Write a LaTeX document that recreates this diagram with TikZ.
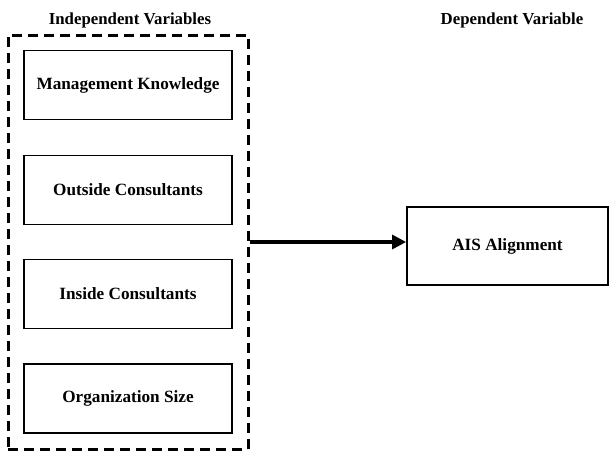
\documentclass[tikz,border=0pt]{standalone}
\usepackage{fontspec}
\setmainfont{Liberation Serif}
\usetikzlibrary{arrows.meta}

\begin{document}
\begin{tikzpicture}[x=1pt,y=1pt,yscale=-1,xscale=1,
  varbox/.style={draw,line width=1.8,minimum width=208,minimum height=69,inner sep=0,font=\fontsize{17.2}{20}\selectfont\bfseries},
  heading/.style={inner sep=0.75,font=\fontsize{16.8}{20}\selectfont\bfseries},
  groupbox/.style={draw,line width=3,dash pattern=on 10 off 6,minimum width=240,minimum height=414,inner sep=0}]
\useasboundingbox (0,0) rectangle (609,451);
% Dashed group
\node [groupbox] (group) at (128,242) {};
% Independent variables
\node [varbox] (knowledge) at (128,85) {Management Knowledge};
\node [varbox] (outside) at (128,190) {Outside Consultants};
\node [varbox] (inside) at (128,294) {Inside Consultants};
\node [varbox] (size) at (128,398.5) {Organization Size};
% Dependent variable
\node [varbox,minimum width=201,minimum height=78] (ais) at (507.5,246) {AIS Alignment};
% Text Node
\node [heading] (indep) at (130,20) {Independent Variables};
% Text Node
\node [heading] (dep) at (512,20) {Dependent Variable};
% Arrow
\coordinate (from) at (group.east |- 0,242);
\draw [line width=3.2,-{Triangle[length=14,width=14]}] (from) -- (ais.west |- from);
\end{tikzpicture}
\end{document}
